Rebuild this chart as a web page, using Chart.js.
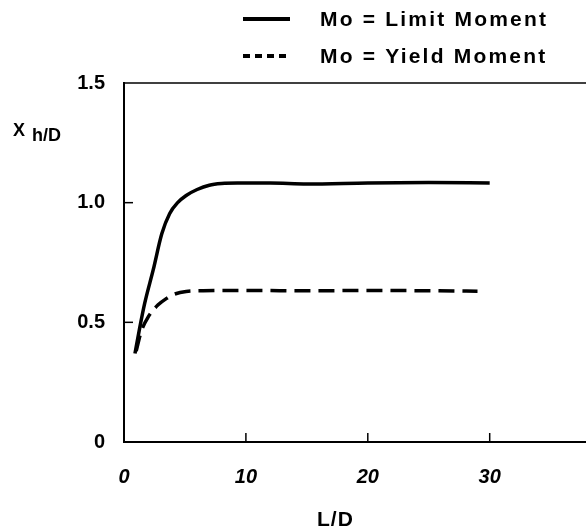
<!DOCTYPE html>
<html>
<head>
<meta charset="utf-8">
<script src="https://cdn.jsdelivr.net/npm/chart.js@4.4.1/dist/chart.umd.min.js"></script>
<style>
  html, body { margin: 0; padding: 0; background: #fff; }
  #wrap { width: 586px; height: 530px; }
</style>
</head>
<body>
<div id="wrap"><canvas id="chart"></canvas></div>
<script>
// L/D values and X h/D readings
const limitX = [0.9, 1.3, 1.7, 2.4, 3.1, 3.75, 4.4, 5.1, 6.0, 7.0, 8.0, 9.3, 12, 15, 20, 25, 30];
const limitY = [0.37, 0.48, 0.58, 0.72, 0.87, 0.955, 1.0, 1.03, 1.055, 1.073, 1.08, 1.082, 1.082, 1.078, 1.082, 1.084, 1.082];

const yieldX = [1.0, 1.4, 2.0, 2.8, 3.5, 4.0, 5.1, 6.5, 7.8, 10, 15, 20, 25, 29];
const yieldY = [0.38, 0.46, 0.524, 0.573, 0.60, 0.615, 0.629, 0.632, 0.633, 0.633, 0.632, 0.633, 0.632, 0.63];

const seriesLabels = ["Mo = Limit Moment", "Mo = Yield Moment"];
const xTickLabels = ["0", "10", "20", "30"];
const yTickLabels = ["0", "0.5", "1.0", "1.5"];

const FONT = "'Liberation Sans', Arial, sans-serif";

function toPoints(xs, ys) {
    return xs.map((x, i) => ({ x: x, y: ys[i] }));
}

// frame top line, inward ticks, axis titles and the legend
const decorations = {
    id: "decorations",
    afterDraw(chart) {
        const ctx = chart.ctx;
        const area = chart.chartArea;
        const xs = chart.scales.x;
        const ys = chart.scales.y;
        ctx.save();
        ctx.strokeStyle = "#000";
        ctx.lineWidth = 1.5;
        ctx.beginPath();
        ctx.moveTo(area.left, area.top);
        ctx.lineTo(area.right, area.top);
        ctx.stroke();

        // inward ticks
        ys.ticks.forEach(t => {
            if (t.value <= 0 || t.value >= 1.5) return;
            const py = ys.getPixelForValue(t.value);
            ctx.beginPath();
            ctx.moveTo(area.left, py);
            ctx.lineTo(area.left + 9, py);
            ctx.stroke();
        });
        xs.ticks.forEach(t => {
            if (t.value <= 0) return;
            const px = xs.getPixelForValue(t.value);
            ctx.beginPath();
            ctx.moveTo(px, area.bottom);
            ctx.lineTo(px, area.bottom - 9);
            ctx.stroke();
        });

        // axis titles
        ctx.fillStyle = "#000";
        ctx.textBaseline = "middle";
        ctx.textAlign = "left";
        ctx.font = "bold 21px " + FONT;
        ctx.letterSpacing = "1px";
        ctx.fillText("L/D", 317, 520);
        ctx.letterSpacing = "0px";
        ctx.font = "bold 18px " + FONT;
        ctx.fillText("X", 13, 131);
        ctx.font = "bold 18px " + FONT;
        ctx.fillText("h/D", 32, 136);

        // legend
        const rows = [20, 57];
        chart.data.datasets.forEach((ds, i) => {
            const y = rows[i];
            ctx.lineWidth = 4;
            ctx.setLineDash(i === 0 ? [] : [7, 5]);
            ctx.beginPath();
            ctx.moveTo(243, y - 1);
            ctx.lineTo(290, y - 1);
            ctx.stroke();
            ctx.setLineDash([]);
            ctx.font = "bold 21px " + FONT;
            ctx.letterSpacing = "2.2px";
            ctx.fillText(ds.label, 320, y);
            ctx.letterSpacing = "0px";
        });
        ctx.restore();
    }
};

new Chart(document.getElementById("chart"), {
    type: "line",
    data: {
        datasets: [
            {
                label: seriesLabels[0],
                data: toPoints(limitX, limitY),
                borderColor: "#000",
                borderWidth: 3.5,
                pointRadius: 0,
                cubicInterpolationMode: "monotone",
                fill: false,
            },
            {
                label: seriesLabels[1],
                data: toPoints(yieldX, yieldY),
                borderColor: "#000",
                borderWidth: 3.5,
                borderDash: [16, 8],
                pointRadius: 0,
                cubicInterpolationMode: "monotone",
                fill: false,
            },
        ],
    },
    options: {
        responsive: true,
        maintainAspectRatio: false,
        animation: false,
        layout: { padding: { top: 83, left: 0, right: 0, bottom: 0 } },
        plugins: {
            legend: { display: false },
            tooltip: { enabled: false },
        },
        scales: {
            x: {
                type: "linear",
                min: 0,
                max: 37.9,
                afterFit(scale) { scale.height = 88; },
                grid: { display: false, drawTicks: false },
                border: { display: true, color: "#000", width: 2 },
                ticks: {
                    stepSize: 10,
                    includeBounds: false,
                    padding: 23,
                    color: "#000",
                    font: { family: FONT, size: 20, style: "italic", weight: "bold" },
                    callback: function (v) {
                        return xTickLabels[Math.round(v / 10)];
                    }
                },
            },
            y: {
                min: 0,
                max: 1.5,
                afterFit(scale) { scale.width = 124; },
                grid: { display: false, drawTicks: false },
                border: { display: true, color: "#000", width: 2 },
                ticks: {
                    stepSize: 0.5,
                    padding: 19,
                    color: "#000",
                    font: { family: FONT, size: 20, weight: "bold" },
                    callback: function (v) {
                        return yTickLabels[Math.round(v / 0.5)];
                    }
                },
            },
        },
    },
    plugins: [decorations],
});
</script>
</body>
</html>
